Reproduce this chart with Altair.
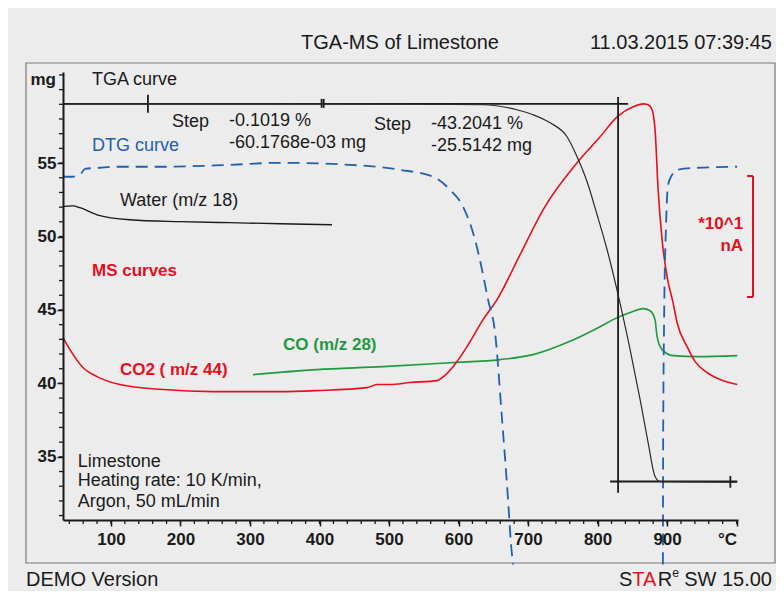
import altair as alt
import pandas as pd

# ---------------- data (°C, values on the mg axis) ----------------
tga_T = [31, 300, 515.8, 635.3, 684.0, 707.2, 731.7, 756.1, 770.5, 784.9, 799.3, 813.7,
         829.5, 846.8, 861.2, 872.7, 882.7, 889.9, 947.5, 1000.7]
tga_mg = [59.03, 59.03, 59.01, 58.97, 58.63, 58.29, 57.74, 56.79, 55.43, 53.73, 51.48, 49.10,
          46.04, 42.30, 38.90, 35.97, 33.66, 33.32, 33.29, 33.27]

dtg1_T = [31, 43.9, 55.4, 62.6, 84.2, 102.9, 174.8, 271.2, 343.2, 443.9, 515.8, 563.3, 587.8,
          606.5, 623.7, 635.3, 642.4, 652.5, 662.6, 671.2, 675.5, 678.4]
dtg1_v = [54.07, 54.07, 54.2, 54.61, 54.68, 54.75, 54.75, 54.88, 55.02, 54.88, 54.54, 54.07, 53.18,
          52.03, 49.78, 47.40, 45.70, 43.46, 37.54, 32.10, 29.03, 27.67]
dtg2_T = [894.0, 894.3, 895.7, 898.6, 901.4, 907.2, 914.4, 943.2, 1000.7]
dtg2_v = [27.67, 35.5, 44.34, 50.94, 53.52, 54.2, 54.54, 54.68, 54.75]

water_T = [31, 45.3, 55.4, 79.9, 127.3, 199.3, 271.2, 343.2, 418.0]
water_v = [52.05, 52.09, 51.96, 51.48, 51.14, 51.01, 50.94, 50.87, 50.80]

co2_T = [31, 41.0, 59.7, 79.9, 112.9, 174.8, 246.8, 295.7, 343.2, 396.4, 468.3, 482.7, 501.4,
         530.2, 569.1, 576.3, 592.1, 612.2, 635.3, 655.4, 688.5, 721.6, 770.5, 803.6, 828.1,
         851.1, 865.5, 872.7, 878.4, 882.7, 887.1, 892.8, 900.0, 908.6, 914.4, 928.8, 940.3,
         957.6, 976.3, 1001.0]
co2_v = [43.12, 42.30, 41.08, 40.46, 39.92, 39.58, 39.44, 39.44, 39.44, 39.51, 39.71, 39.92, 39.92,
         40.06, 40.19, 40.39, 41.14, 42.50, 44.34, 45.70, 48.76, 51.82, 55.02, 56.79, 58.15,
         58.83, 59.03, 58.97, 58.63, 57.27, 53.18, 49.78, 47.26, 45.50, 44.13, 42.50, 41.48,
         40.73, 40.26, 39.92]

co_T = [304.3, 396.4, 491.4, 587.8, 659.7, 707.2, 756.1, 803.6, 822.3, 846.8, 865.5, 875.5,
        882.7, 885.6, 892.8, 908.6, 943.2, 1001.0]
co_v = [40.60, 40.94, 41.14, 41.41, 41.62, 41.96, 42.78, 43.86, 44.34, 44.82, 45.09, 44.95,
        44.34, 43.18, 42.30, 41.89, 41.82, 41.89]

# step evaluation construction lines: x, x2, y, y2
step_x = [31, 818.0, 829.5, 153.2, 403.0, 406.0, 991.0]
step_x2 = [843.9, 1001.0, 829.5, 153.2, 403.0, 406.0, 991.0]
step_y = [59.03, 33.32, 32.55, 58.42, 58.76, 58.76, 32.90]
step_y2 = [59.03, 33.32, 59.50, 59.65, 59.37, 59.37, 33.70]

x_major = [100, 200, 300, 400, 500, 600, 700, 800, 900, 1000]
x_minor = list(range(40, 1001, 20))
y_major = [35, 40, 45, 50, 55]
y_minor = list(range(31, 62))

black_txt = ["TGA curve", "Step", "-0.1019 %", "-60.1768e-03 mg", "Step", "-43.2041 %",
             "-25.5142 mg", "Water (m/z 18)", "Limestone", "Heating rate: 10 K/min,",
             "Argon, 50 mL/min"]
black_T = [72.7, 187.8, 269.8, 269.8, 478.4, 560.4, 560.4, 112.9, 52.1, 52.1, 52.1]
black_v = [60.67, 57.81, 57.88, 56.38, 57.61, 57.67, 56.18, 52.44, 34.67, 33.35, 31.95]

blue_txt = ["DTG curve"]
blue_T = [72.7]
blue_v = [56.18]

red_txt = ["MS curves", "CO2 ( m/z 44)"]
red_T = [72.7, 112.9]
red_v = [47.64, 40.9]

green_txt = ["CO (m/z 28)"]
green_T = [347.5]
green_v = [42.64]

unit_txt = ["*10^1", "nA"]
unit_T = [1009.4, 1009.4]
unit_v = [50.86, 49.34]

# ---------------- styling ----------------
FONT = "Liberation Sans"
RED = "#e4101f"
GREEN = "#1f9a3e"
BLUE = "#2160ac"
BLACK = "#1a1a1a"
BG = "#ececec"

XS = alt.Scale(domain=[31, 1002], nice=False, zero=False)
YS = alt.Scale(domain=[30.7, 61.2], nice=False, zero=False)

AX = alt.Axis(
    values=x_major, title="", grid=False, zindex=1,
    labelExpr="datum.value == 1000 ? '°C' : datum.label",
    labelAlign=alt.ConditionalAxisLabelAlign(
        condition={"test": "datum.value == 1000", "value": "right"}, value="center"),
    tickSize=6, tickWidth=1.5, tickColor=BLACK,
    domainColor=BLACK, domainWidth=2,
    labelFont=FONT, labelFontSize=17, labelFontWeight="bold", labelColor=BLACK,
    labelPadding=5, labelOverlap=False, labelFlush=False)
AY = alt.Axis(
    values=y_major, title="", grid=False, format="d", zindex=1,
    tickSize=6, tickWidth=1.5, tickColor=BLACK,
    domainColor=BLACK, domainWidth=2,
    labelFont=FONT, labelFontSize=17, labelFontWeight="bold", labelColor=BLACK,
    labelPadding=1, labelOverlap=False, labelFlush=False)


def X(field):
    return alt.X(field, scale=XS, axis=AX)


def Y(field):
    return alt.Y(field, scale=YS, axis=AY)


def line(T, v, color, width, dash=None):
    df = pd.DataFrame({"T": T, "v": v})
    kw = dict(color=color, strokeWidth=width, interpolate="monotone")
    if dash:
        kw["strokeDash"] = dash
    return alt.Chart(df).mark_line(**kw).encode(x=X("T:Q"), y=Y("v:Q"))


def labels(txt, T, v, color, bold=False, size=18, align="left"):
    df = pd.DataFrame({"T": T, "v": v, "t": txt})
    return alt.Chart(df).mark_text(
        font=FONT, fontSize=size, fontWeight="bold" if bold else "normal",
        color=color, align=align, baseline="middle",
    ).encode(x=X("T:Q"), y=Y("v:Q"), text="t:N")


one = pd.DataFrame({"a": [0]})


def ptext(s, x, y, color=BLACK, size=20, align="left", bold=False):
    return alt.Chart(one).mark_text(
        font=FONT, fontSize=size, color=color, align=align, baseline="middle",
        fontWeight="bold" if bold else "normal",
    ).encode(x=alt.value(x), y=alt.value(y), text=alt.value(s))


def prule(x, x2, y, y2, color, width):
    return alt.Chart(one).mark_rule(color=color, strokeWidth=width).encode(
        x=alt.value(x), x2=alt.value(x2), y=alt.value(y), y2=alt.value(y2))


xminor = alt.Chart(pd.DataFrame({"T": x_minor})).mark_rule(color=BLACK, strokeWidth=1.3).encode(
    x=X("T:Q"), y=alt.value(448), y2=alt.value(452))
yminor = alt.Chart(pd.DataFrame({"v": y_minor})).mark_rule(color=BLACK, strokeWidth=1.3).encode(
    y=Y("v:Q"), x=alt.value(-4), x2=alt.value(0))

steps = alt.Chart(pd.DataFrame({"x": step_x, "x2": step_x2, "y": step_y, "y2": step_y2})).mark_rule(
    color=BLACK, strokeWidth=1.8).encode(x=X("x:Q"), x2="x2:Q", y=Y("y:Q"), y2="y2:Q")

frame = alt.Chart(one).mark_rect(fill=BG, fillOpacity=0, stroke="#7a7a7a", strokeWidth=1.2).encode(
    x=alt.value(-37), x2=alt.value(712), y=alt.value(-9), y2=alt.value(491))

layers = [
    frame,
    xminor, yminor,
    line(water_T, water_v, BLACK, 1.3),
    line(co_T, co_v, GREEN, 1.6),
    line(co2_T, co2_v, RED, 1.6),
    line(dtg1_T, dtg1_v, BLUE, 1.8, dash=[12, 7]),
    line(dtg2_T, dtg2_v, BLUE, 1.8, dash=[12, 7]),
    steps,
    line(tga_T, tga_mg, "#2a2a2a", 1.2),
    labels(black_txt, black_T, black_v, BLACK),
    labels(blue_txt, blue_T, blue_v, BLUE),
    labels(red_txt, red_T, red_v, RED, bold=True, size=17),
    labels(green_txt, green_T, green_v, GREEN, bold=True, size=17),
    labels(unit_txt, unit_T, unit_v, RED, bold=True, size=17, align="right"),
    # red bracket for the MS scale
    prule(690, 690, 104, 225, RED, 2),
    prule(684, 690, 104, 104, RED, 2),
    prule(684, 690, 225, 225, RED, 2),
    # y unit
    ptext("mg", -7, 8, size=17, align="right", bold=True),
    # header / footer
    ptext("TGA-MS of Limestone", 337, -29, align="center"),
    ptext("11.03.2015 07:39:45", 709, -29, align="right"),
    ptext("DEMO Version", -37, 508),
    ptext("S", 556, 508),
    ptext("TA", 569.3, 508, color=RED),
    ptext("R", 594.8, 508),
    ptext("e", 609.2, 501, size=12),
    ptext(" SW 15.00", 709, 508, align="right"),
]

chart = alt.layer(*layers).properties(
    width=675, height=448,
    padding={"left": 55, "top": 64, "right": 38, "bottom": 71},
    autosize=alt.AutoSizeParams(type="none"),
    background=BG,
).configure_view(strokeWidth=0)

chart.save("out.html", embed_options={"renderer": "svg", "actions": False})
